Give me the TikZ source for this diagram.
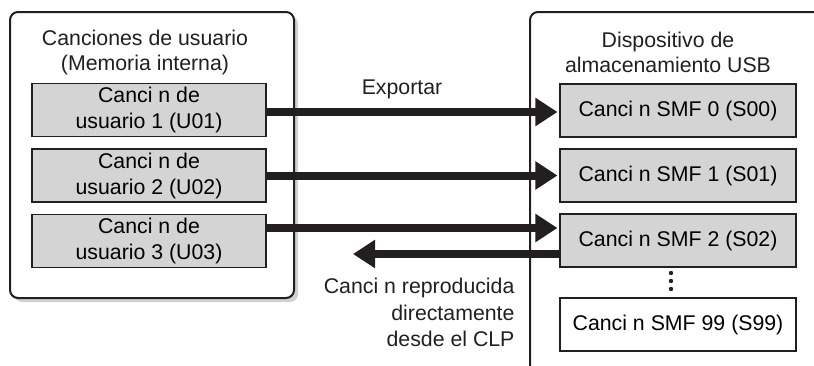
\documentclass[tikz,border=0pt]{standalone}
\usepackage{fontspec}
\setmainfont{Liberation Sans}
\usepackage{tikz}
\usetikzlibrary{arrows.meta, positioning, calc}
\definecolor{ink}{HTML}{231F20}
\definecolor{songgray}{gray}{0.83}
\definecolor{shadowgray}{gray}{0.82}

\begin{document}
\begin{tikzpicture}[
  x=1pt, y=-1pt,
  song/.style={
    draw=ink, fill=songgray, line width=1.1pt,
    minimum width=234pt, minimum height=53pt,
    font=\fontsize{21.3}{26}\selectfont, align=center, inner sep=0pt
  },
  title/.style={font=\fontsize{21.3}{25}\selectfont, align=center, text=ink},
  outer/.style={draw=ink, line width=2pt, rounded corners=8pt},
  bigarr/.style={-{Triangle[length=22pt, width=27pt]}, line width=8pt, ink}
]

\useasboundingbox (0,0) rectangle (814,365);

% Memory box (left), with its shadow
\fill[shadowgray, rounded corners=8pt] (14,16) rectangle (298,302);
\draw[outer, fill=white] (10,12) rectangle (294,298);
\node[title] (memtitle) at (145,52) {Canciones de usuario\\(Memoria interna)};

% USB device box (right), open at right and bottom
\draw[outer] (530,366) -- (530,12) -- (816,12);
\node[title] (usbtitle) at (668,52) {Dispositivo de\\almacenamiento USB};

% User songs
\node[song] (u1) at (149,110) {Canci n de\\usuario 1 (U01)};
\node[song] (u2) at (149,175.5) {Canci n de\\usuario 2 (U02)};
\node[song] (u3) at (149,241) {Canci n de\\usuario 3 (U03)};

% SMF songs
\node[song, minimum width=236pt] (s0) at (678,110.5) {Canci n SMF 0 (S00)};
\node[song, minimum width=236pt] (s1) at (678,175.5) {Canci n SMF 1 (S01)};
\node[song, minimum width=236pt] (s2) at (678,240.5) {Canci n SMF 2 (S02)};
\node[song, minimum width=236pt, fill=white] (s99) at (678,324.5) {Canci n SMF 99 (S99)};

% dots between S02 and S99
\foreach \yy in {273,281,289}
  \fill[ink] (671,\yy) circle (2.2pt);

% Export arrows
\draw[bigarr, shorten >=2pt] ([yshift=-2pt]u1.east) -- ([yshift=-2pt]u1.east -| s0.west);
\draw[bigarr, shorten >=2pt] (u2.east) -- (u2.east -| s1.west);
\draw[bigarr, shorten >=2pt] ([yshift=13pt]u3.east) -- ([yshift=13pt]u3.east -| s2.west);
\node[title] (export) at (402,89) {Exportar};

% Direct playback arrow
\coordinate (clp) at (353,254);
\draw[bigarr] (clp -| s2.west) -- (clp);
\node[title, align=right, anchor=north east, font=\fontsize{21.3}{26.5}\selectfont]
  (play) at (518,275) {Canci n reproducida\\directamente\\desde el CLP};

\end{tikzpicture}
\end{document}
